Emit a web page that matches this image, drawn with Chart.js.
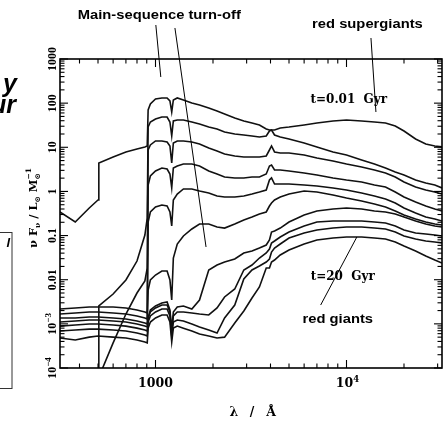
<!DOCTYPE html>
<html><head><meta charset="utf-8">
<script src="https://cdn.jsdelivr.net/npm/chart.js@4.4.1/dist/chart.umd.min.js"></script>
<style>html,body{margin:0;padding:0;background:#fff;}canvas{display:block;}</style>
</head><body>
<canvas id="c" width="445" height="421"></canvas>
<script>
// ---- data (wavelength in Angstrom, nu F_nu in L_sun / M_sun) ----
const wavelengths = [316, 380, 450, 500, 505, 600, 700, 800, 880, 905, 915, 940, 1000, 1080, 1150, 1190, 1216, 1240, 1300, 1400, 1550, 1700, 1900, 2100, 2300, 2600, 2900, 3200, 3500, 3800, 3950, 4050, 4200, 4500, 5000, 6000, 7000, 8500, 10000, 12000, 14000, 16000, 18000, 20000, 23000, 26000, 29000, 31600];
const ages = ['0.01', '0.03', '0.1', '0.3', '0.5', '1', '2', '5', '10', '20'];
// values below 1e-4 fall off the bottom of the plot
const flux_1 = [0.342, 0.203, 0.421, 0.639, 4.41, 6.03, 7.83, 9.16, 10.2, 10.7, 69.9, 95.6, 124, 131, 131, 112, 63.0, 118, 131, 118, 101, 90.8, 77.6, 66.4, 56.8, 46.1, 39.4, 35.5, 32.0, 26.0, 24.6, 24.6, 24.6, 27.4, 28.8, 32.0, 35.5, 39.4, 41.5, 39.4, 37.4, 35.5, 30.4, 23.4, 15.4, 11.9, 10.7, 10.2];
const flux_2 = [1e-6, 1e-6, 1e-6, 1e-6, 0.00254, 0.00474, 0.00985, 0.0265, 0.1031, 0.250, 28.8, 37.4, 43.7, 48.5, 48.5, 37.4, 18.0, 39.4, 41.5, 41.5, 37.4, 33.7, 28.8, 26.0, 22.2, 20.0, 19.0, 18.0, 17.1, 18.0, 23.4, 24.6, 19.0, 17.1, 15.4, 12.5, 10.2, 7.83, 6.69, 5.15, 4.18, 3.40, 2.76, 2.36, 1.815, 1.55, 1.40, 1.20];
const flux_3 = [1e-7, 1e-6, 1e-5, 5e-5, 6.2e-5, 0.00037, 0.00167, 0.00500, 0.00935, 0.0184, 8.68, 11.3, 13.9, 13.9, 13.2, 10.7, 4.41, 12.5, 13.9, 13.9, 13.2, 11.9, 9.65, 8.24, 7.05, 6.35, 6.03, 6.03, 6.03, 6.35, 8.68, 10.7, 7.83, 7.43, 7.43, 6.69, 5.72, 4.89, 4.18, 3.58, 3.06, 2.62, 2.12, 1.64, 1.26, 1.077, 0.970, 0.874];
const flux_4 = [0.00217, 0.00229, 0.00241, 0.00241, 0.00241, 0.00241, 0.00229, 0.00206, 0.00186, 0.00176, 1.40, 2.24, 2.90, 3.40, 3.22, 2.48, 1.20, 3.40, 3.77, 4.18, 4.18, 3.77, 2.90, 2.48, 2.12, 2.02, 2.02, 2.12, 2.12, 2.48, 3.77, 3.97, 3.06, 3.06, 2.90, 2.62, 2.36, 2.02, 1.815, 1.64, 1.40, 1.26, 0.970, 0.748, 0.576, 0.467, 0.400, 0.360];
const flux_5 = [0.00167, 0.00176, 0.00186, 0.00186, 0.00186, 0.00176, 0.00167, 0.00151, 0.00136, 0.00129, 0.203, 0.342, 0.444, 0.492, 0.467, 0.342, 0.165, 0.639, 0.874, 1.135, 1.135, 1.022, 0.921, 0.788, 0.748, 0.748, 0.788, 0.874, 0.970, 1.077, 1.815, 2.02, 1.47, 1.47, 1.47, 1.40, 1.33, 1.20, 1.077, 0.921, 0.788, 0.674, 0.547, 0.421, 0.325, 0.263, 0.237, 0.214];
const flux_6 = [0.00136, 0.00136, 0.00143, 0.00143, 0.00143, 0.00136, 0.00129, 0.00116, 0.00105, 0.00099, 0.00584, 0.00985, 0.01278, 0.01575, 0.01575, 0.00985, 0.00347, 0.0310, 0.0644, 0.0978, 0.141, 0.183, 0.183, 0.156, 0.148, 0.183, 0.2253, 0.263, 0.308, 0.342, 0.467, 0.547, 0.639, 0.748, 0.874, 1.022, 0.970, 0.830, 0.710, 0.607, 0.519, 0.444, 0.360, 0.292, 0.237, 0.203, 0.183, 0.174];
const flux_7 = [0.00110, 0.00116, 0.00122, 0.00122, 0.00122, 0.00116, 0.00110, 0.00099, 0.00089, 0.00085, 0.00136, 0.00206, 0.00254, 0.00297, 0.00313, 0.00206, 0.000725, 0.00186, 0.00241, 0.00254, 0.00217, 0.00347, 0.01659, 0.0215, 0.0252, 0.0294, 0.0403, 0.0447, 0.0523, 0.0611, 0.0793, 0.1205, 0.127, 0.148, 0.203, 0.292, 0.360, 0.400, 0.421, 0.400, 0.360, 0.342, 0.308, 0.263, 0.214, 0.183, 0.165, 0.156];
const flux_8 = [0.00089, 0.00094, 0.00099, 0.00099, 0.00099, 0.00094, 0.00089, 0.00080, 0.000725, 0.00069, 0.00136, 0.00186, 0.00229, 0.00267, 0.00267, 0.00186, 0.00065, 0.00151, 0.00186, 0.00186, 0.00176, 0.00167, 0.00159, 0.00229, 0.00406, 0.00616, 0.01659, 0.0215, 0.0310, 0.0403, 0.0496, 0.0679, 0.0753, 0.0929, 0.1205, 0.165, 0.203, 0.214, 0.214, 0.214, 0.203, 0.193, 0.165, 0.1337, 0.1144, 0.1086, 0.1031, 0.0978];
const flux_9 = [0.00069, 0.000725, 0.00076, 0.00076, 0.00076, 0.000725, 0.00069, 0.00062, 0.00056, 0.00053, 0.00110, 0.00151, 0.00186, 0.00217, 0.00217, 0.00151, 0.00053, 0.00110, 0.00122, 0.00116, 0.00099, 0.00085, 0.000725, 0.00062, 0.00136, 0.00267, 0.01038, 0.01659, 0.0204, 0.0252, 0.0294, 0.0424, 0.0523, 0.0644, 0.0881, 0.1144, 0.1337, 0.148, 0.156, 0.156, 0.148, 0.141, 0.1205, 0.0978, 0.0837, 0.0753, 0.0715, 0.0679];
const flux_10 = [0.00048, 0.00043, 0.00050, 0.00053, 0.00053, 0.00050, 0.00048, 0.00043, 0.00039, 0.00037, 0.00080, 0.00110, 0.00136, 0.00159, 0.00159, 0.00110, 0.00039, 0.00080, 0.00089, 0.00080, 0.00069, 0.00059, 0.00053, 0.00048, 0.00050, 0.00105, 0.00196, 0.00385, 0.00684, 0.0184, 0.0184, 0.0252, 0.0279, 0.0363, 0.0471, 0.0644, 0.0793, 0.0881, 0.0929, 0.0929, 0.0881, 0.0837, 0.0715, 0.0580, 0.0447, 0.0344, 0.0279, 0.0239];
const seriesFlux = [flux_1, flux_2, flux_3, flux_4, flux_5, flux_6, flux_7, flux_8, flux_9, flux_10];

// ticks
const xMajorTicks = [1000, 10000];
const xMinorTicks = [400, 500, 600, 700, 800, 900, 2000, 3000, 4000, 5000, 6000, 7000, 8000, 9000, 20000, 30000];
const yDecades = [1e-4, 1e-3, 1e-2, 1e-1, 1, 10, 100, 1000];
const yTickLabels = [['10', '\u22124'], ['10', '\u22123'], ['0.01'], ['0.1'], ['1'], ['10'], ['100'], ['1000']];

// annotations in data units [lambda, flux]
const msLine1 = [[1004, 5890], [1066, 391]];
const msLine2 = [[1264, 5040], [1839, 0.0551]];
const rsgLine = [[13430, 2990], [14260, 63.0]];
const rgLine = [[11330, 0.0928], [7324, 0.00267]];
const msLabelPos = [1047, 9420];
const rsgLabelPos = [12870, 5890];
const rgLabelPos = [9000, 0.00122];
const tYoungPos = [10280, 117.8];
const tOldPos = [9560, 0.01151];

const SERIF = '"Liberation Serif", "DejaVu Serif", serif';
const DSERIF = '"DejaVu Serif", serif';
const SANS = '"Liberation Sans", Arial, sans-serif';

function rich(ctx, parts, x, y, align) {
  let w = 0; const ws = [];
  parts.forEach(p => { ctx.font = p.f; const pw = ctx.measureText(p.t).width; ws.push(pw); if (p.adv !== false) w += pw; });
  let cx = align === 'center' ? x - w / 2 : (align === 'right' ? x - w : x);
  ctx.textAlign = 'left';
  parts.forEach((p, i) => { ctx.font = p.f; ctx.fillText(p.t, cx, y + (p.dy || 0)); if (p.adv !== false) cx += ws[i]; });
}

const overlay = {
  id: 'overlay',
  afterDraw(chart) {
    const ctx = chart.ctx, a = chart.chartArea, xs = chart.scales.x, ys = chart.scales.y;
    const X = v => xs.getPixelForValue(v), Y = v => ys.getPixelForValue(v);
    ctx.save();
    ctx.strokeStyle = '#000'; ctx.fillStyle = '#000';
    // frame
    ctx.lineWidth = 1.6;
    ctx.strokeRect(a.left, a.top, a.right - a.left, a.bottom - a.top);
    ctx.lineWidth = 1.1;
    const seg = (x1, y1, x2, y2) => { ctx.beginPath(); ctx.moveTo(x1, y1); ctx.lineTo(x2, y2); ctx.stroke(); };
    xMinorTicks.forEach(v => { const p = X(v); seg(p, a.bottom, p, a.bottom - 4.5); seg(p, a.top, p, a.top + 4.5); });
    xMajorTicks.forEach(v => { const p = X(v); seg(p, a.bottom, p, a.bottom - 8); seg(p, a.top, p, a.top + 8); });
    yDecades.forEach((d, i) => {
      const p = Y(d);
      seg(a.left, p, a.left + 8, p); seg(a.right, p, a.right - 8, p);
      if (i < yDecades.length - 1) for (let k = 2; k <= 9; k++) { const q = Y(d * k); seg(a.left, q, a.left + 4.5, q); seg(a.right, q, a.right - 4.5, q); }
    });
    // y tick labels (rotated)
    ctx.textBaseline = 'middle';
    yDecades.forEach((d, i) => {
      const lab = yTickLabels[i];
      ctx.save(); ctx.translate(52.5, Y(d)); ctx.rotate(-Math.PI / 2);
      const parts = [{ t: lab[0], f: 'bold 12px ' + SERIF }];
      if (lab[1]) parts.push({ t: lab[1], f: 'bold 9px ' + SERIF, dy: -4 });
      rich(ctx, parts, 0, 0, 'center');
      ctx.restore();
    });
    // x tick labels
    ctx.textBaseline = 'alphabetic';
    rich(ctx, [{ t: '1000', f: 'bold 12.5px ' + DSERIF }], X(1000), 387, 'center');
    rich(ctx, [{ t: '10', f: 'bold 12.5px ' + DSERIF }, { t: '4', f: 'bold 8.5px ' + DSERIF, dy: -5 }], X(10000) + 1, 387, 'center');
    // axis titles
    ctx.font = 'bold 12.5px ' + DSERIF; ctx.textAlign = 'center';
    ctx.fillText('\u03bb', 234, 416); ctx.fillText('/', 252, 416); ctx.fillText('\u00c5', 271, 416);
    ctx.save(); ctx.translate(37, 208); ctx.rotate(-Math.PI / 2);
    const b = 'bold 11.5px ' + DSERIF, s = 'bold 7.5px ' + DSERIF;
    rich(ctx, [
      { t: '\u03bd F', f: b }, { t: '\u03bd', f: s, dy: 3 },
      { t: ' / L', f: b }, { t: '\u2299', f: s, dy: 3 },
      { t: ' M', f: b }, { t: '\u2299', f: s, dy: 3, adv: false }, { t: '\u22121', f: s, dy: -6 }
    ], 0, 0, 'center');
    ctx.restore();
    // annotation leader lines
    ctx.lineWidth = 1;
    [msLine1, msLine2, rsgLine, rgLine].forEach(l => seg(X(l[0][0]), Y(l[0][1]), X(l[1][0]), Y(l[1][1])));
    // sans labels (horizontally stretched like the original)
    ctx.textBaseline = 'middle';
    const sans = (txt, pos) => {
      ctx.save(); ctx.translate(X(pos[0]), Y(pos[1])); ctx.scale(1.18, 1);
      ctx.font = 'bold 12.5px ' + SANS; ctx.textAlign = 'center'; ctx.fillText(txt, 0, 0); ctx.restore();
    };
    sans('Main-sequence turn-off', msLabelPos);
    sans('red supergiants', rsgLabelPos);
    sans('red giants', rgLabelPos);
    // age labels
    ctx.font = 'bold 12px ' + DSERIF; ctx.textAlign = 'center';
    ctx.fillText('t=0.01  Gyr', X(tYoungPos[0]), Y(tYoungPos[1]));
    ctx.fillText('t=20  Gyr', X(tOldPos[0]), Y(tOldPos[1]));
    // fragments of neighbouring slide content
    ctx.textBaseline = 'alphabetic'; ctx.textAlign = 'right';
    ctx.font = 'italic bold 25px ' + SANS;
    ctx.fillText('y', 17, 92); ctx.fillText('ur', 16, 113);
    ctx.strokeStyle = '#333'; ctx.lineWidth = 1;
    ctx.strokeRect(-2, 232.5, 14, 156);
    ctx.font = 'italic bold 13px ' + SANS; ctx.fillText('l', 10, 247);
    ctx.restore();
  }
};

const datasets = seriesFlux.map((arr, i) => ({
  label: 't=' + ages[i] + ' Gyr',
  data: wavelengths.map((w, j) => ({ x: w, y: arr[j] })),
  borderColor: '#111', borderWidth: 1.6, pointRadius: 0, tension: 0, fill: false
}));

new Chart(document.getElementById('c'), {
  type: 'line',
  data: { datasets },
  options: {
    responsive: false, animation: false, devicePixelRatio: 1,
    layout: { padding: { left: 0, right: 3, top: 59, bottom: 0 } },
    plugins: { legend: { display: false }, tooltip: { enabled: false } },
    scales: {
      x: { type: 'logarithmic', min: Math.pow(10, 2.5), max: Math.pow(10, 4.5),
           grid: { display: false }, border: { display: false }, ticks: { display: false },
           afterFit: s => { s.height = 53; } },
      y: { type: 'logarithmic', min: 1e-4, max: 1000,
           grid: { display: false }, border: { display: false }, ticks: { display: false },
           afterFit: s => { s.width = 60; } }
    }
  },
  plugins: [overlay]
});
</script>
</body></html>
